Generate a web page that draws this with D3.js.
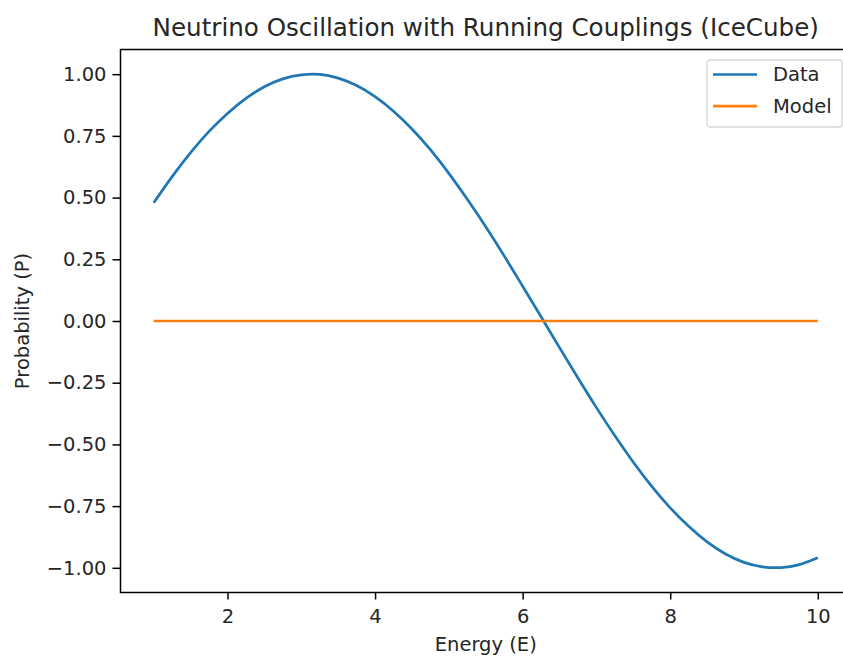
<!DOCTYPE html>
<html>
<head>
<meta charset="utf-8">
<script src="https://d3js.org/d3.v7.min.js"></script>
<style>
  html, body { margin: 0; background: #fff; overflow: hidden; }
  svg { display: block; }
  text { font-family: "DejaVu Sans", sans-serif; fill: #262626; }
</style>
</head>
<body>
<div id="chart"></div>
<script>
const energy = [1.0, 1.25, 1.5, 1.75, 2.0, 2.25, 2.5, 2.75, 3.0, 3.25, 3.5, 3.75, 4.0, 4.25, 4.5, 4.75,
  5.0, 5.25, 5.5, 5.75, 6.0, 6.25, 6.5, 6.75, 7.0, 7.25, 7.5, 7.75, 8.0, 8.25, 8.5, 8.75,
  9.0, 9.25, 9.5, 9.75, 10.0]
const dataP = [0.479, 0.585, 0.682, 0.768, 0.841, 0.902, 0.949, 0.981, 0.997, 0.999, 0.984, 0.954,
  0.909, 0.850, 0.778, 0.694, 0.598, 0.493, 0.382, 0.264, 0.141, 0.017, -0.108, -0.231,
  -0.351, -0.465, -0.572, -0.670, -0.757, -0.832, -0.895, -0.944, -0.978, -0.996, -0.999,
  -0.987, -0.959]
const modelP = [0, 0, 0, 0, 0, 0, 0, 0, 0, 0, 0, 0, 0, 0, 0, 0, 0, 0, 0, 0, 0, 0, 0, 0, 0, 0, 0, 0, 0, 0, 0, 0, 0, 0, 0, 0, 0]
const xTicks = [2, 4, 6, 8, 10]
const yTicks = [-1.0, -0.75, -0.5, -0.25, 0, 0.25, 0.5, 0.75, 1.0]
const seriesNames = ["Data", "Model"]
const seriesColors = ["#1f77b4", "#ff7f0e"]

const width = 843
const height = 659
const plot = { left: 120.5, right: 851, top: 49.5, bottom: 592.5 }

const svg = d3.select("#chart").append("svg")
  .attr("width", width).attr("height", height)

const x = d3.scaleLinear().domain([0.55, 10.45]).range([plot.left, plot.right])
const y = d3.scaleLinear().domain([-1.1, 1.1]).range([plot.bottom, plot.top])

const fmtY = d => d3.format(".2f")(d).replace("-", "\u2212")

// axes
const xAxis = svg.append("g")
  .attr("transform", "translate(0," + plot.bottom + ")")
  .call(d3.axisBottom(x).tickValues(xTicks).tickSize(7).tickPadding(10).tickSizeOuter(0))
const yAxis = svg.append("g")
  .attr("transform", "translate(" + plot.left + ",0)")
  .call(d3.axisLeft(y).tickValues(yTicks).tickFormat(fmtY).tickSize(8).tickPadding(6).tickSizeOuter(0))

;[xAxis, yAxis].forEach(g => {
  g.selectAll("text").style("font-size", "19.5px").attr("fill", "#262626")
  g.selectAll("line").attr("stroke", "#000").attr("stroke-width", 1.5)
  g.select(".domain").remove()
})

// lines
const line = d3.line().curve(d3.curveNatural)
const allSeries = [dataP, modelP]
allSeries.forEach((vals, i) => {
  svg.append("path")
    .datum(energy.map((e, j) => [x(e), y(vals[j])]))
    .attr("d", line)
    .attr("fill", "none")
    .attr("stroke", seriesColors[i])
    .attr("stroke-width", 2.7)
})

// spines
svg.append("rect")
  .attr("x", plot.left).attr("y", plot.top)
  .attr("width", plot.right - plot.left).attr("height", plot.bottom - plot.top)
  .attr("fill", "none").attr("stroke", "#000").attr("stroke-width", 1.5)

// title and labels
svg.append("text")
  .attr("x", (plot.left + plot.right) / 2).attr("y", 36)
  .attr("text-anchor", "middle").style("font-size", "24.6px")
  .text("Neutrino Oscillation with Running Couplings (IceCube)")
svg.append("text")
  .attr("x", (plot.left + plot.right) / 2).attr("y", 651)
  .attr("text-anchor", "middle").style("font-size", "19.5px")
  .text("Energy (E)")
svg.append("text")
  .attr("transform", "translate(28.5," + (plot.top + plot.bottom) / 2 + ") rotate(-90)")
  .attr("text-anchor", "middle").style("font-size", "19.5px")
  .text("Probability (P)")

// legend
const legend = svg.append("g").attr("transform", "translate(707,60)")
legend.append("rect")
  .attr("width", 135).attr("height", 67).attr("rx", 3)
  .attr("fill", "#fff").attr("fill-opacity", 0.8)
  .attr("stroke", "#d6d6d6").attr("stroke-width", 1.3)
seriesNames.forEach((name, i) => {
  const ly = 14.5 + i * 31.7
  legend.append("line")
    .attr("x1", 6).attr("x2", 50).attr("y1", ly).attr("y2", ly)
    .attr("stroke", seriesColors[i]).attr("stroke-width", 2.7)
  legend.append("text")
    .attr("x", 66).attr("y", ly + 6.5)
    .style("font-size", "19.5px")
    .text(name)
})
</script>
</body>
</html>
